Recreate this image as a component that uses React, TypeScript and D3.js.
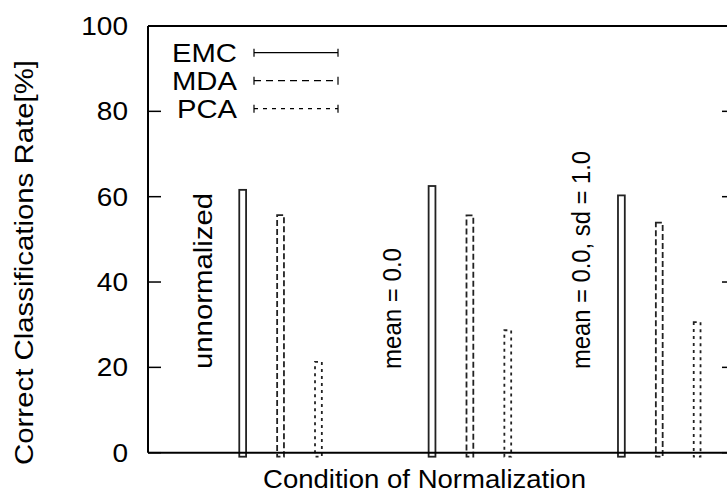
import React from "react";
import * as d3 from "d3";

const categories = ["unnormalized", "mean = 0.0", "mean = 0.0, sd = 1.0"];
const seriesNames = ["EMC", "MDA", "PCA"];
const emc = [61.6, 62.5, 60.3];
const mda = [55.7, 55.6, 53.9];
const pca = [21.3, 28.7, 30.6];
const yTicks = [0, 20, 40, 60, 80, 100];

const W = 727;
const H = 493;
const FONT = "'Liberation Sans', Arial, sans-serif";

// layout-only: rendered text lengths matching the reference font widths
const catLen = [176, 121, 218];
const legendLen = [65, 65, 60];

export default function App() {
  const left = 148;
  const right = 735;
  const top = 26;
  const bottom = 452.7;
  const x = d3.scaleLinear().domain([-0.7, 2.4]).range([left, right]);
  const y = d3.scaleLinear().domain([0, 100]).range([bottom, top]);
  const series = [emc, mda, pca];
  const offsets = [-0.2, 0, 0.2];
  const dashes = ["none", "6,3", "3,4"];
  const legendDashes = ["none", "7,5", "4,5"];
  const barW = 0.036;
  const bw = x(barW) - x(0);
  const tickLen = 13;

  return (
    <div style={{ position: "fixed", left: 0, top: 0 }}>
      <svg width={W} height={H} style={{ display: "block", background: "#fff" }} fontFamily={FONT}>
        {/* bars */}
        {series.map((vals, si) =>
          vals.map((v, ci) => {
            const cx = x(ci + offsets[si]);
            return (
              <rect
                key={`b${si}-${ci}`}
                x={cx - bw / 2}
                y={y(v)}
                width={bw}
                height={y(0) - y(v) + 4}
                fill="none"
                stroke="#222"
                strokeWidth={1.8}
                strokeDasharray={dashes[si]}
              />
            );
          })
        )}
        {/* frame */}
        <line x1={left} x2={left} y1={top} y2={bottom} stroke="#000" strokeWidth={2} />
        <line x1={left} x2={W + 10} y1={top} y2={top} stroke="#000" strokeWidth={2} />
        <line x1={left} x2={W + 10} y1={bottom} y2={bottom} stroke="#000" strokeWidth={2} />
        <line x1={right} x2={right} y1={top} y2={bottom} stroke="#000" strokeWidth={2} />
        {/* y ticks */}
        {yTicks.map((t) => (
          <g key={`t${t}`}>
            <line x1={left} x2={left + tickLen} y1={y(t)} y2={y(t)} stroke="#000" strokeWidth={1.5} />
            <line x1={right - tickLen} x2={right} y1={y(t)} y2={y(t)} stroke="#000" strokeWidth={1.5} />
            <text
              transform={`translate(128,${y(t)}) scale(1.12,1)`}
              dy="0.36em"
              textAnchor="end"
              fontSize={25}
              fill="#000"
            >
              {t}
            </text>
          </g>
        ))}
        {/* category labels */}
        {categories.map((c, ci) => {
          const lx = x(ci + offsets[0]) - 40 + 9;
          const ly = 369;
          return (
            <text
              key={`c${ci}`}
              transform={`translate(${lx},${ly}) rotate(-90)`}
              fontSize={25}
              fill="#000"
              textLength={catLen[ci]}
              lengthAdjust="spacingAndGlyphs"
            >
              {c}
            </text>
          );
        })}
        {/* legend */}
        {seriesNames.map((s, si) => {
          const ly = 52.7 + si * 28;
          return (
            <g key={`l${si}`}>
              <text
                x={237 - legendLen[si]}
                y={ly}
                dy="0.36em"
                fontSize={25}
                fill="#000"
                textLength={legendLen[si]}
                lengthAdjust="spacingAndGlyphs"
              >
                {s}
              </text>
              <line x1={254} x2={338} y1={ly} y2={ly} stroke="#000" strokeWidth={1.2} strokeDasharray={legendDashes[si]} />
              <line x1={254} x2={254} y1={ly - 4} y2={ly + 4} stroke="#000" strokeWidth={1.2} />
              <line x1={338} x2={338} y1={ly - 4} y2={ly + 4} stroke="#000" strokeWidth={1.2} />
            </g>
          );
        })}
        {/* axis titles */}
        <text
          x={424.5 - 323 / 2}
          y={488}
          fontSize={25}
          fill="#000"
          textLength={323}
          lengthAdjust="spacingAndGlyphs"
        >
          Condition of Normalization
        </text>
        <text
          transform={`translate(33,465) rotate(-90)`}
          fontSize={25}
          fill="#000"
          textLength={405}
          lengthAdjust="spacingAndGlyphs"
        >
          Correct Classifications Rate[%]
        </text>
      </svg>
    </div>
  );
}
